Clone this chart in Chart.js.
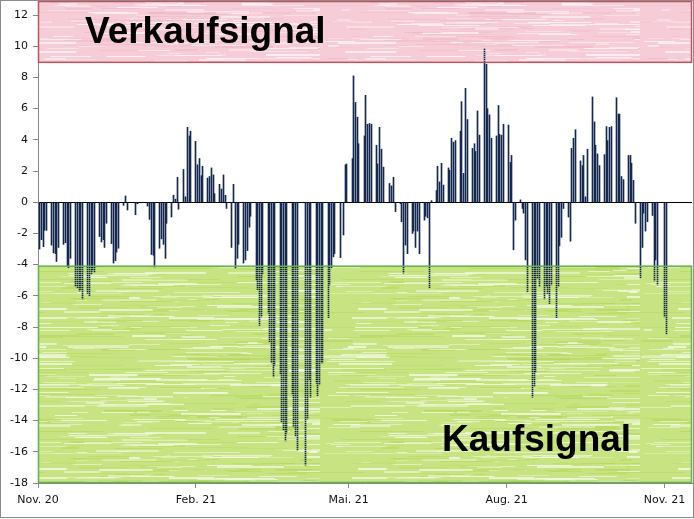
<!DOCTYPE html>
<html>
<head>
<meta charset="utf-8">
<script src="https://cdn.jsdelivr.net/npm/chart.js@4.4.1/dist/chart.umd.min.js"></script>
<style>
html, body { margin: 0; padding: 0; background: #fff; }
</style>
</head>
<body>
<canvas id="myChart" width="694" height="519"></canvas>
<script>
// Mondays of each trading week, five values (Mon..Fri) per week, null = no value
const weekStarts = [
  '2020-11-02','2020-11-09','2020-11-16','2020-11-23','2020-11-30','2020-12-07','2020-12-14',
  '2020-12-21','2020-12-28','2021-01-04','2021-01-11','2021-01-18','2021-01-25','2021-02-01',
  '2021-02-08','2021-02-15','2021-02-22','2021-03-01','2021-03-08','2021-03-15','2021-03-22',
  '2021-03-29','2021-04-05','2021-04-12','2021-04-19','2021-04-26','2021-05-03','2021-05-10',
  '2021-05-17','2021-05-24','2021-05-31','2021-06-07','2021-06-14','2021-06-21','2021-06-28',
  '2021-07-05','2021-07-12','2021-07-19','2021-07-26','2021-08-02','2021-08-09','2021-08-16',
  '2021-08-23','2021-08-30','2021-09-06','2021-09-13','2021-09-20','2021-09-27','2021-10-04',
  '2021-10-11','2021-10-18','2021-10-25','2021-11-01'
];
const weekValues = [
  [-3.0, -2.4, -2.85, -1.8, -1.8],
  [-2.75, -3.25, -3.3, -3.8, -2.9],
  [-2.7, -2.6, -4.1, -4.2, -3.6],
  [-5.4, -5.5, -5.7, -5.6, -6.2],
  [-5.85, -6.0, -4.6, -4.4, -4.5],
  [-2.2, -2.55, -2.4, -2.9, -1.35],
  [-2.65, -3.9, -3.75, -3.2, -2.95],
  [-0.2, 0.4, -0.5, null, null],
  [-0.8, -0.1, null, null, null],
  [-0.25, -1.1, -3.35, -3.4, -4.15],
  [-2.95, -2.35, -2.7, -3.6, -1.35],
  [-0.95, 0.45, 0.2, 1.6, -0.45],
  [2.1, 0.35, 4.8, 4.25, 4.55],
  [3.9, 2.4, 2.8, 1.7, 2.3],
  [1.55, 1.65, 2.2, 1.75, 0.55],
  [1.15, 0.85, 1.75, 0.45, -0.4],
  [-2.9, 1.15, -4.25, -3.6, -2.7],
  [-3.9, -3.7, -3.1, -1.6, -0.9],
  [-5.0, -5.6, -7.9, -7.35, -4.6],
  [-7.1, -8.95, -10.3, -11.2, -10.45],
  [-11.0, -14.1, -14.6, -15.3, -14.8],
  [-12.3, -14.4, -15.0, -15.9, null],
  [null, -16.85, -13.9, -11.4, -12.5],
  [-11.6, -12.4, -11.7, -10.3, -10.3],
  [-7.4, -5.3, -4.2, -3.5, -3.3],
  [-3.55, null, -2.1, 2.4, 2.45],
  [2.8, 8.1, 6.4, 5.45, 3.75],
  [4.25, 6.85, 5.0, 5.05, 5.0],
  [3.65, 2.45, 4.8, 3.4, 2.25],
  [null, 1.2, 1.05, 1.6, -0.6],
  [-0.1, -1.25, -4.55, -2.75, -3.3],
  [-2.0, -1.85, -2.9, -1.85, -3.3],
  [-1.15, -0.9, -1.0, -5.5, 0.1],
  [0.75, 2.3, 1.3, 2.5, 1.1],
  [2.2, 2.05, 4.1, 3.85, 3.95],
  [4.55, 6.45, 1.85, 7.3, 5.3],
  [3.45, 3.75, 3.25, 5.85, 4.3],
  [9.85, 8.85, 6.0, 5.6, 4.1],
  [4.25, 6.2, 4.35, 4.3, 5.0],
  [4.95, 2.55, 3.0, -3.05, -1.15],
  [0.15, -0.4, -0.7, -3.7, -5.75],
  [-12.5, -11.8, -10.9, -4.9, -5.4],
  [-6.2, -5.4, -5.85, -6.5, -5.3],
  [-7.4, -5.4, -2.8, -2.25, -0.4],
  [-0.95, -2.5, 3.45, 4.1, 4.65],
  [2.65, 2.35, 3.0, 0.35, 3.4],
  [6.75, 5.15, 3.65, 3.1, 2.35],
  [3.05, 4.85, 3.95, 4.8, 4.85],
  [6.7, 5.65, 5.65, 1.65, 1.45],
  [3.0, 3.0, 2.5, 1.4, -1.35],
  [-4.85, -2.9, -0.7, -1.85, -1.25],
  [-0.85, -5.05, -3.7, -5.3, null],
  [-7.35, -8.45]
];
const tickDays = [0, 92, 181, 273, 365];
const tickLabels = ['Nov. 20', 'Feb. 21', 'Mai. 21', 'Aug. 21', 'Nov. 21'];
const yTickValues = [-18, -16, -14, -12, -10, -8, -6, -4, -2, 0, 2, 4, 6, 8, 10, 12];
const sellLevel = 9;
const buyLevel = -4.1;

const day0 = Date.UTC(2020, 10, 1);
const points = [];
weekStarts.forEach((s, i) => {
  const start = Math.round((Date.parse(s) - day0) / 86400000);
  weekValues[i].forEach((v, j) => {
    if (v !== null) points.push({ x: start + j, y: v });
  });
});

// streaky fill like the excel texture
function makeTexture(base, light, dark, seed) {
  const c = document.createElement('canvas');
  c.width = 320; c.height = 160;
  const g = c.getContext('2d');
  g.fillStyle = base;
  g.fillRect(0, 0, c.width, c.height);
  let s = seed;
  const rnd = () => { s = (Math.imul(s, 1664525) + 1013904223) >>> 0; return s / 4294967296; };
  for (let i = 0; i < 480; i++) {
    const isLight = rnd() < 0.6;
    g.fillStyle = isLight ? light : dark;
    g.globalAlpha = isLight ? 0.35 + rnd() * 0.55 : 0.2 + rnd() * 0.4;
    g.fillRect(Math.floor(rnd() * c.width), Math.floor(rnd() * c.height), 8 + rnd() * 60, 1 + Math.floor(rnd() * 1.4));
  }
  return c;
}
function rowsOnly(tex) {
  const c = document.createElement('canvas');
  c.width = tex.width; c.height = tex.height;
  const g = c.getContext('2d');
  g.drawImage(tex, 0, 0);
  for (let y = 1; y < c.height; y += 2) g.clearRect(0, y, c.width, 1);
  return c;
}

const pinkTex = makeTexture('#f6ccd7', '#fef4f6', '#efb5c5', 7);
const greenTex = makeTexture('#c7e382', '#f2f9e0', '#b2d657', 13);
const pinkRows = rowsOnly(pinkTex);
const greenRows = rowsOnly(greenTex);

const bandPlugin = {
  id: 'bands',
  beforeDatasetsDraw(chart) {
    const { ctx, chartArea: a, scales: { y } } = chart;
    // put every bar on whole pixels so the 1px bars stay sharp
    chart.getDatasetMeta(0).data.forEach(el => { el.x = Math.floor(el.x) + 0.5; });
    ctx.save();
    ctx.fillStyle = ctx.createPattern(pinkTex, 'repeat');
    ctx.fillRect(a.left, a.top, a.right - a.left, y.getPixelForValue(sellLevel) - a.top);
    ctx.fillStyle = ctx.createPattern(greenTex, 'repeat');
    const gy = y.getPixelForValue(buyLevel);
    ctx.fillRect(a.left, gy, a.right - a.left, a.bottom - gy);
    ctx.restore();
  },
  afterDatasetsDraw(chart) {
    const { ctx, chartArea: a, scales: { y } } = chart;
    const ry = y.getPixelForValue(sellLevel);
    const gy = y.getPixelForValue(buyLevel);
    ctx.save();
    ctx.globalAlpha = 0.6;
    ctx.fillStyle = ctx.createPattern(pinkRows, 'repeat');
    ctx.fillRect(a.left, a.top, a.right - a.left, ry - a.top);
    ctx.fillStyle = ctx.createPattern(greenRows, 'repeat');
    ctx.fillRect(a.left, gy, a.right - a.left, a.bottom - gy);
    ctx.globalAlpha = 1;
    ctx.lineWidth = 1.5;
    ctx.strokeStyle = '#c4505a';
    ctx.strokeRect(a.left + 0.5, a.top + 0.5, a.right - a.left - 1, ry - a.top);
    ctx.strokeStyle = '#62b04c';
    ctx.strokeRect(a.left + 0.5, gy, a.right - a.left - 1, a.bottom - gy - 0.5);
    ctx.fillStyle = '#000';
    ctx.font = 'bold 37px "Liberation Sans", Arial, sans-serif';
    ctx.textBaseline = 'alphabetic';
    ctx.fillText('Verkaufsignal', 85, 43);
    ctx.fillText('Kaufsignal', 442, 451);
    ctx.restore();
  },
  afterDraw(chart) {
    const ctx = chart.ctx;
    ctx.save();
    ctx.strokeStyle = '#8c8c8c';
    ctx.lineWidth = 1;
    ctx.strokeRect(0.5, 0.5, 693, 517);
    ctx.restore();
  }
};

const ctx = document.getElementById('myChart');

var chart = new Chart(ctx, {
  type: 'bar',
  data: {
    datasets: [{
      data: points,
      backgroundColor: '#142850',
      borderWidth: 0,
      barThickness: 1
    }]
  },
  options: {
    responsive: false,
    animation: false,
    layout: { padding: { top: 1, right: 2, left: 0, bottom: 0 } },
    plugins: {
      legend: { display: false },
      tooltip: { enabled: false }
    },
    scales: {
      x: {
        type: 'linear',
        min: 0,
        max: 381,
        offset: false,
        afterBuildTicks: s => { s.ticks = tickDays.map(v => ({ value: v })); },
        afterFit: s => { s.height = 36; },
        ticks: {
          callback: v => tickLabels[tickDays.indexOf(v)],
          autoSkip: false,
          maxRotation: 0,
          padding: 6,
          color: '#111',
          font: { family: 'DejaVu Sans', size: 11 }
        },
        grid: { drawOnChartArea: false, offset: false, tickLength: 5, color: '#888' },
        border: { color: '#888' }
      },
      y: {
        min: -18,
        max: 12.9,
        afterBuildTicks: s => { s.ticks = yTickValues.map(v => ({ value: v })); },
        afterFit: s => { s.width = 38; s.paddingTop = 0; s.paddingBottom = 0; },
        ticks: {
          padding: 5,
          color: '#111',
          font: { family: 'DejaVu Sans', size: 11 }
        },
        grid: {
          color: c => (c.tick && c.tick.value === 0) ? '#000' : 'rgba(0,0,0,0)',
          tickColor: '#888',
          tickLength: 5
        },
        border: { color: '#888' }
      }
    }
  },
  plugins: [bandPlugin]
});
</script>
</body>
</html>
